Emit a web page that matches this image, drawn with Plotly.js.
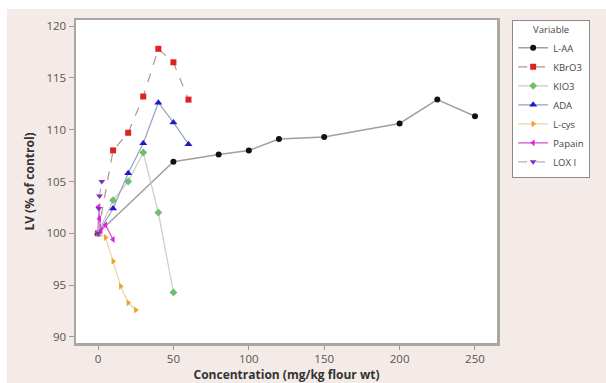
<!DOCTYPE html>
<html>
<head>
<meta charset="utf-8">
<script src="https://cdn.plot.ly/plotly-3.0.1.min.js"></script>
<style>html,body{margin:0;padding:0;background:#fff;}#chart{width:606px;height:383px;}</style>
</head>
<body>
<div id="chart"></div>
<script>
// Data
const seriesNames = ["L-AA", "KBrO3", "KIO3", "ADA", "L-cys", "Papain", "LOX I"];

const laaX = [0, 50, 80, 100, 120, 150, 200, 225, 250];
const laaY = [100, 106.9, 107.6, 108.0, 109.1, 109.3, 110.6, 112.9, 111.3];

const kbro3X = [0, 10, 20, 30, 40, 50, 60];
const kbro3Y = [100, 108.0, 109.7, 113.2, 117.8, 116.5, 112.9];

const kio3X = [0, 10, 20, 30, 40, 50];
const kio3Y = [100, 103.2, 105.0, 107.8, 102.0, 94.3];

const adaX = [0, 10, 20, 30, 40, 50, 60];
const adaY = [100, 102.4, 105.8, 108.7, 112.6, 110.7, 108.6];

const lcysX = [0, 5, 10, 15, 20, 25];
const lcysY = [100, 99.6, 97.3, 94.9, 93.3, 92.6];

const papainX = [0, 0.5, 1, 2, 5, 10];
const papainY = [100, 102.6, 101.4, 100.3, 100.8, 99.4];

const loxX = [0, 0.5, 1, 2.5];
const loxY = [100, 102.4, 103.6, 105.0];

const xTicks = [0, 50, 100, 150, 200, 250];
const yTicks = [90, 95, 100, 105, 110, 115, 120];

function tr(name, x, y, lineColor, dash, lineWidth, markerColor, symbol, size) {
  return {
    type: "scatter", mode: "lines+markers", name: name, x: x, y: y,
    line: {color: lineColor, width: lineWidth, dash: dash},
    marker: {color: markerColor, symbol: symbol, size: size}
  };
}

const data = [
  tr(seriesNames[0], laaX, laaY, "#a0a0a0", "solid", 1.5, "#111111", "circle", 6),
  tr(seriesNames[1], kbro3X, kbro3Y, "#b89090", "dash", 1.2, "#dd2222", "square", 6),
  tr(seriesNames[2], kio3X, kio3Y, "#c8cec8", "solid", 1.2, "#6cbf6c", "diamond", 6),
  tr(seriesNames[3], adaX, adaY, "#98a0c4", "solid", 1.2, "#1c1ccc", "triangle-up", 7),
  tr(seriesNames[4], lcysX, lcysY, "#ead4a0", "solid", 1.2, "#eea030", "triangle-right", 6),
  tr(seriesNames[5], papainX, papainY, "#c850cc", "solid", 1.2, "#e020e0", "triangle-left", 6),
  tr(seriesNames[6], loxX, loxY, "#b8aacb", "dash", 1.2, "#8030b8", "triangle-down", 6)
];

const axisFont = {family: "Open Sans, sans-serif", size: 11.5, color: "#555"};
const titleFont = {family: "Open Sans, sans-serif", size: 12, color: "#333", weight: "bold"};

const layout = {
  width: 606, height: 383,
  margin: {l: 76, r: 109, t: 20, b: 40},
  paper_bgcolor: "#ffffff",
  plot_bgcolor: "rgba(0,0,0,0)",
  showlegend: true,
  shapes: [
    {type: "rect", xref: "paper", yref: "paper", x0: -0.164, x1: 1.3, y0: -0.2, y1: 1.034,
     fillcolor: "#f4eae7", line: {width: 0}, layer: "below"},
    {type: "rect", xref: "paper", yref: "paper", x0: 0, x1: 1, y0: 0, y1: 1,
     fillcolor: "#ffffff", line: {width: 0}, layer: "below"}
  ],
  xaxis: {
    range: [-14.6, 264.6], tickvals: xTicks, ticks: "outside", ticklen: 4, tickcolor: "#999",
    showgrid: false, zeroline: false, showline: true, mirror: true, linecolor: "#aaa6a2", linewidth: 2.5,
    tickfont: axisFont,
    title: {text: "Concentration (mg/kg flour wt)", font: titleFont, standoff: 3}
  },
  yaxis: {
    range: [89.42, 120.58], tickvals: yTicks, ticks: "outside", ticklen: 5, tickcolor: "#999",
    showgrid: false, zeroline: false, showline: true, mirror: true, linecolor: "#aaa6a2", linewidth: 2.5,
    tickfont: axisFont,
    title: {text: "LV (% of control)", font: titleFont, standoff: 10}
  },
  legend: {
    x: 1.036, y: 1.0, xanchor: "left", yanchor: "top",
    bgcolor: "#ffffff", bordercolor: "#8a8a8a", borderwidth: 1,
    font: {family: "Open Sans, sans-serif", size: 9.5, color: "#444"},
    title: {text: "Variable", side: "top center", font: {family: "Open Sans, sans-serif", size: 9.5, color: "#444"}},
    itemwidth: 30, tracegroupgap: 0
  }
};

Plotly.newPlot("chart", data, layout, {displayModeBar: false, staticPlot: true});
</script>
</body>
</html>
